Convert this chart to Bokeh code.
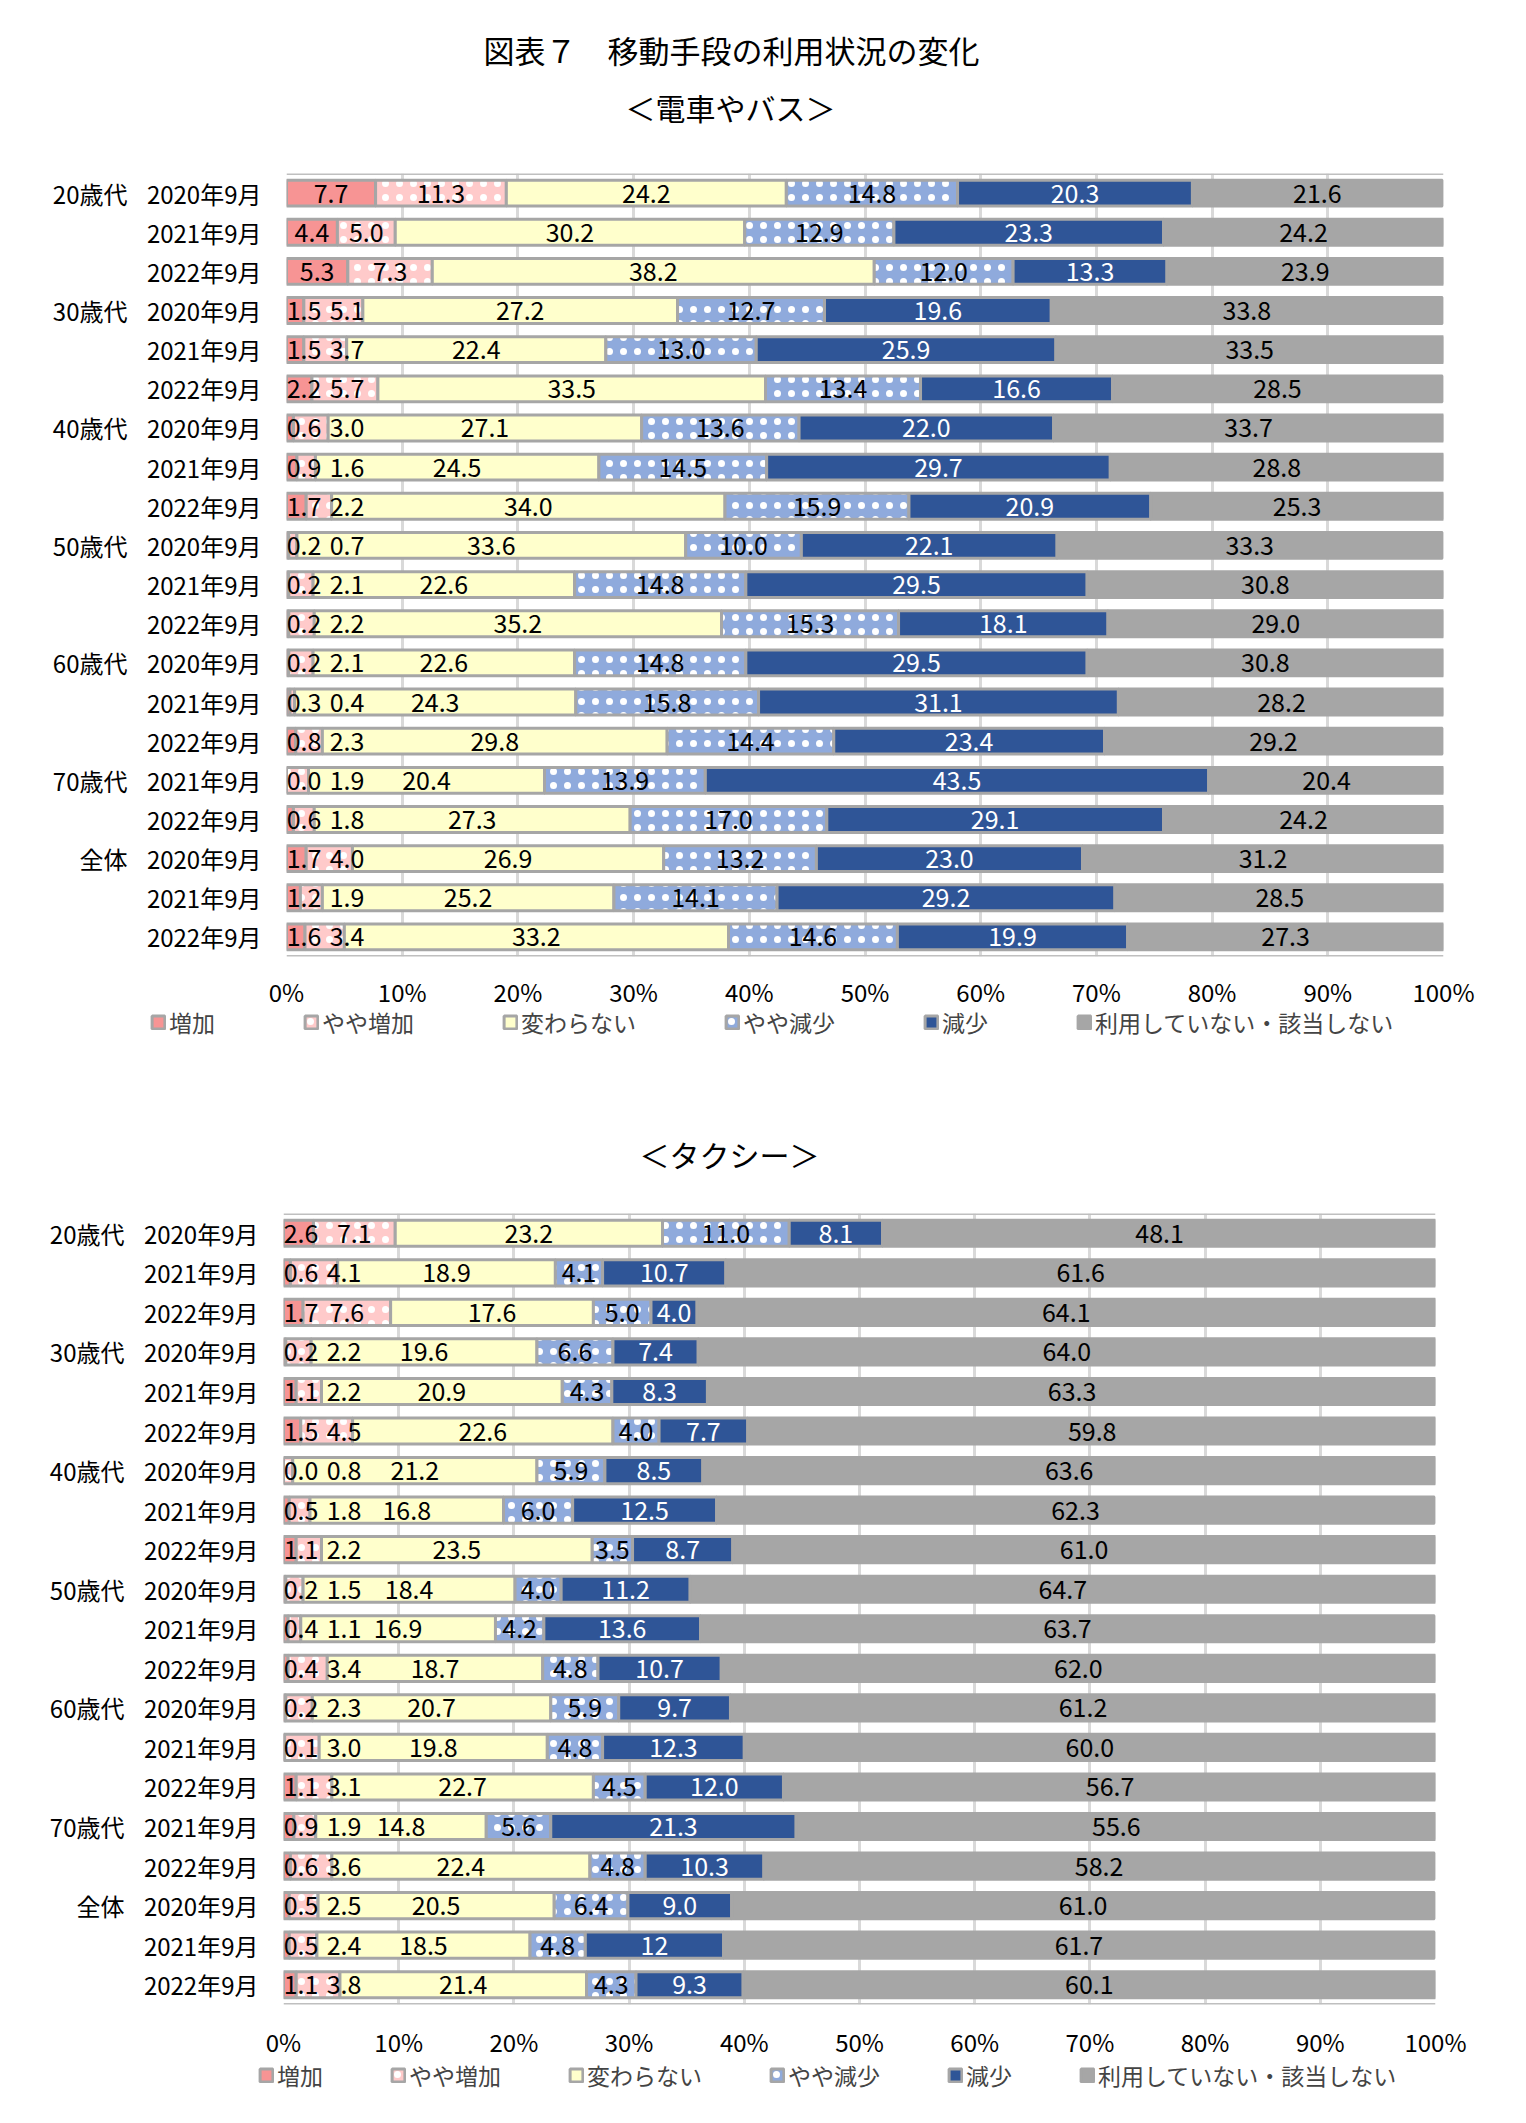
from bokeh.plotting import figure
from bokeh.models import (ColumnDataSource, Range1d, FixedTicker, LinearAxis, Legend,
                          LegendItem, LabelSet, Span)
from bokeh.layouts import column
from bokeh.core.properties import value
from bokeh.embed import file_html
from bokeh.resources import INLINE

FONT = "Noto Sans CJK JP"
W = 1526

series = ["増加", "やや増加", "変わらない", "やや減少", "減少", "利用していない・該当しない"]
colors = ["#F79494", "#FFCACA", "#FFFFCC", "#8FAADC", "#2F5597", "#A6A6A6"]
hatched = [False, True, False, True, False, False]
label_colors = ["black", "black", "black", "black", "white", "black"]

groups = ["20歳代", "30歳代", "40歳代", "50歳代", "60歳代", "70歳代", "全体"]
group_rows = [0, 3, 6, 9, 12, 15, 17]
years = ["2020年9月", "2021年9月", "2022年9月",
         "2020年9月", "2021年9月", "2022年9月",
         "2020年9月", "2021年9月", "2022年9月",
         "2020年9月", "2021年9月", "2022年9月",
         "2020年9月", "2021年9月", "2022年9月",
         "2021年9月", "2022年9月",
         "2020年9月", "2021年9月", "2022年9月"]
ticks_pct = [0, 10, 20, 30, 40, 50, 60, 70, 80, 90, 100]

# ---- 電車やバス ----
train_inc = [7.7, 4.4, 5.3, 1.5, 1.5, 2.2, 0.6, 0.9, 1.7, 0.2, 0.2, 0.2, 0.2, 0.3, 0.8, 0.0, 0.6, 1.7, 1.2, 1.6]
train_sinc = [11.3, 5.0, 7.3, 5.1, 3.7, 5.7, 3.0, 1.6, 2.2, 0.7, 2.1, 2.2, 2.1, 0.4, 2.3, 1.9, 1.8, 4.0, 1.9, 3.4]
train_same = [24.2, 30.2, 38.2, 27.2, 22.4, 33.5, 27.1, 24.5, 34.0, 33.6, 22.6, 35.2, 22.6, 24.3, 29.8, 20.4, 27.3, 26.9, 25.2, 33.2]
train_sdec = [14.8, 12.9, 12.0, 12.7, 13.0, 13.4, 13.6, 14.5, 15.9, 10.0, 14.8, 15.3, 14.8, 15.8, 14.4, 13.9, 17.0, 13.2, 14.1, 14.6]
train_dec = [20.3, 23.3, 13.3, 19.6, 25.9, 16.6, 22.0, 29.7, 20.9, 22.1, 29.5, 18.1, 29.5, 31.1, 23.4, 43.5, 29.1, 23.0, 29.2, 19.9]
train_none = [21.6, 24.2, 23.9, 33.8, 33.5, 28.5, 33.7, 28.8, 25.3, 33.3, 30.8, 29.0, 30.8, 28.2, 29.2, 20.4, 24.2, 31.2, 28.5, 27.3]

# ---- タクシー ----
taxi_inc = [2.6, 0.6, 1.7, 0.2, 1.1, 1.5, 0.0, 0.5, 1.1, 0.2, 0.4, 0.4, 0.2, 0.1, 1.1, 0.9, 0.6, 0.5, 0.5, 1.1]
taxi_sinc = [7.1, 4.1, 7.6, 2.2, 2.2, 4.5, 0.8, 1.8, 2.2, 1.5, 1.1, 3.4, 2.3, 3.0, 3.1, 1.9, 3.6, 2.5, 2.4, 3.8]
taxi_same = [23.2, 18.9, 17.6, 19.6, 20.9, 22.6, 21.2, 16.8, 23.5, 18.4, 16.9, 18.7, 20.7, 19.8, 22.7, 14.8, 22.4, 20.5, 18.5, 21.4]
taxi_sdec = [11.0, 4.1, 5.0, 6.6, 4.3, 4.0, 5.9, 6.0, 3.5, 4.0, 4.2, 4.8, 5.9, 4.8, 4.5, 5.6, 4.8, 6.4, 4.8, 4.3]
taxi_dec = [8.1, 10.7, 4.0, 7.4, 8.3, 7.7, 8.5, 12.5, 8.7, 11.2, 13.6, 10.7, 9.7, 12.3, 12.0, 21.3, 10.3, 9.0, 12, 9.3]
taxi_none = [48.1, 61.6, 64.1, 64.0, 63.3, 59.8, 63.6, 62.3, 61.0, 64.7, 63.7, 62.0, 61.2, 60.0, 56.7, 55.6, 58.2, 61.0, 61.7, 60.1]


def fmt(v):
    return f"{v:.1f}" if isinstance(v, float) else str(v)


def text_w(s, fs):
    return sum(0.56 * fs if ch.isdigit() else 0.28 * fs for ch in s)


def bar_style(k):
    kw = dict(fill_color=colors[k], line_color="#A6A6A6", line_width=3)
    if hatched[k]:
        kw.update(hatch_pattern="dot", hatch_color="white", hatch_scale=14, hatch_weight=1)
    return kw


def blank_fig(height):
    p = figure(width=W, height=height, output_backend="svg", toolbar_location=None,
               x_range=Range1d(0, W), y_range=Range1d(height, 0),
               x_axis_location=None, y_axis_location=None,
               min_border_left=0, min_border_right=0,
               min_border_top=0, min_border_bottom=0)
    p.frame_align = False
    p.outline_line_color = None
    p.grid.visible = False
    p.background_fill_color = "white"
    p.border_fill_color = "white"
    return p


def header(texts, height):
    # texts: (text, x, y, size) in this strip's pixel space
    p = blank_fig(height)
    for t, px, ly, size in texts:
        p.text(x=[px], y=[ly], text=[t], text_font=value(FONT), text_font_size=value(size),
               text_align="center", text_baseline="middle", text_color="black")
    return p


def legend_fig(height, left, spacing):
    p = blank_fig(height)
    gw = 16
    # zero-size style samples hidden under the first legend swatch: they only feed the legend
    cx, cy = left + gw / 2, height / 2
    rs = []
    for k in range(len(series)):
        src = ColumnDataSource(dict(y=[cy], left=[cx], right=[cx]))
        rs.append(p.hbar(source=src, y="y", left="left", right="right", height=0,
                         **bar_style(k)))
    lh = 27
    lg = Legend(items=[LegendItem(label=s, renderers=[r]) for s, r in zip(series, rs)],
                orientation="horizontal", location=(left, height / 2 - lh / 2),
                spacing=spacing, glyph_width=gw, glyph_height=gw, label_standoff=3,
                label_height=lh, label_text_font=FONT, label_text_font_size="23px",
                background_fill_alpha=0, border_line_color=None, margin=0, padding=0)
    p.add_layout(lg)
    return p


def make_chart(data, height, mb_left, mb_right, mb_top, mb_bottom, xlabel_standoff):
    frame_w = W - mb_left - mb_right
    nrows = len(years)

    p = figure(width=W, height=height, output_backend="svg", toolbar_location=None,
               x_range=Range1d(0, 100), y_range=Range1d(nrows - 0.5, -0.5),
               min_border_left=mb_left, min_border_right=mb_right,
               min_border_top=mb_top, min_border_bottom=mb_bottom)
    p.frame_align = False
    p.outline_line_color = None
    p.background_fill_color = "white"
    p.border_fill_color = "white"
    p.ygrid.visible = False
    p.xgrid.ticker = FixedTicker(ticks=ticks_pct)
    p.xgrid.grid_line_color = "#D9D9D9"
    p.xgrid.grid_line_width = 3

    xa = p.xaxis[0]
    xa.ticker = FixedTicker(ticks=ticks_pct, minor_ticks=[])
    xa.major_label_overrides = {t: f"{t}%" for t in ticks_pct}
    xa.axis_line_color = None
    xa.major_tick_line_color = None
    xa.minor_tick_line_color = None
    xa.major_tick_out = 0
    xa.major_tick_in = 0
    xa.major_label_standoff = xlabel_standoff
    xa.major_label_text_font = FONT
    xa.major_label_text_font_size = "24px"
    xa.major_label_text_color = "black"

    ya = p.yaxis[0]
    ya.ticker = FixedTicker(ticks=list(range(nrows)), minor_ticks=[])
    ya.major_label_overrides = {i: years[i] for i in range(nrows)}
    ga = LinearAxis(ticker=FixedTicker(ticks=group_rows, minor_ticks=[]),
                    major_label_overrides={r: g for r, g in zip(group_rows, groups)})
    for ax, so in ((ya, 25), (ga, 16)):
        ax.axis_line_color = None
        ax.major_tick_line_color = None
        ax.minor_tick_line_color = None
        ax.major_tick_out = 0
        ax.major_tick_in = 0
        ax.major_label_standoff = so
        ax.major_label_text_font = FONT
        ax.major_label_text_font_size = "24px"
        ax.major_label_text_color = "black"
    p.add_layout(ga, "left")

    rows = list(range(nrows))
    cum = [0.0] * nrows
    centers = [[] for _ in rows]
    for k, vals in enumerate(data):
        left = cum[:]
        right = [a + b for a, b in zip(cum, vals)]
        cum = right
        src = ColumnDataSource(dict(y=rows, left=left, right=right))
        p.hbar(source=src, y="y", left="left", right="right", height=0.66, **bar_style(k))
        for i in rows:
            centers[i].append(((left[i] + right[i]) / 2, fmt(vals[i]), label_colors[k]))

    fs = 25
    unit = 100.0 / frame_w
    gap = 8 * unit
    lab_x, lab_y, lab_t, lab_c = [], [], [], []
    for i in rows:
        prev_pos, prev_w = None, None
        for c, t, col in centers[i]:
            w = text_w(t, fs) * unit
            if prev_pos is None:
                pos = max(c, w / 2)
            else:
                pos = max(c, prev_pos + (prev_w + w) / 2 + gap)
            lab_x.append(pos)
            lab_y.append(i)
            lab_t.append(t)
            lab_c.append(col)
            prev_pos, prev_w = pos, w
    lsrc = ColumnDataSource(dict(x=lab_x, y=lab_y, text=lab_t, color=lab_c))
    p.add_layout(LabelSet(x="x", y="y", text="text", source=lsrc, text_color="color",
                          text_font=value(FONT), text_font_size=value(f"{fs}px"),
                          text_align="center", text_baseline="middle"))

    p.add_layout(Span(location=-0.5, dimension="width", line_color="#BFBFBF", line_width=3))
    p.add_layout(Span(location=nrows - 0.5, dimension="width", line_color="#BFBFBF", line_width=3))
    return p


head1 = header([("図表７　移動手段の利用状況の変化", 731, 49, "31px"),
                ("＜電車やバス＞", 730, 106, "30px")], 148)
chart1 = make_chart([train_inc, train_sinc, train_same, train_sdec, train_dec, train_none],
                    863, 286, 83, 25, 53, 17)
leg1 = legend_fig(28, 150, 88)
head2 = header([("＜タクシー＞", 729, 114, "30px")], 151)
chart2 = make_chart([taxi_inc, taxi_sinc, taxi_same, taxi_sdec, taxi_dec, taxi_none],
                    871, 283, 91, 23, 55, 19)
leg2 = legend_fig(34, 258, 67)

layout = column(head1, chart1, leg1, head2, chart2, leg2)
open("out.html", "w").write(file_html(layout, INLINE))
